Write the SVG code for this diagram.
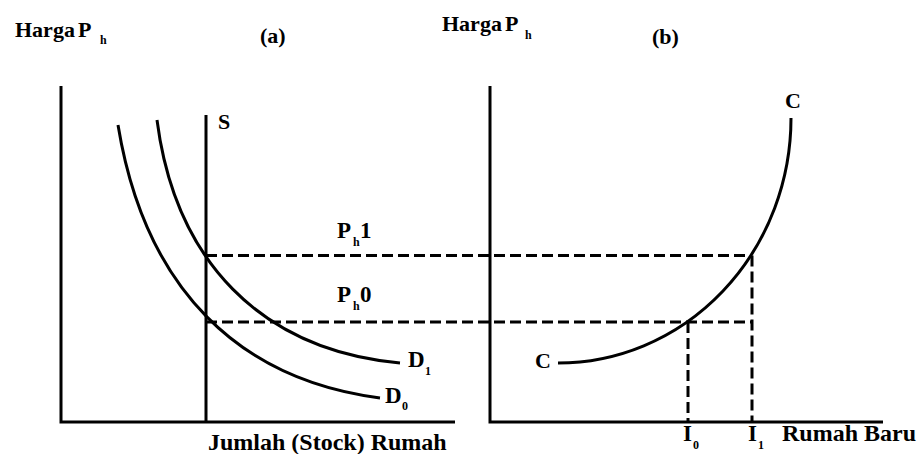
<svg xmlns="http://www.w3.org/2000/svg" width="920" height="454" viewBox="0 0 920 454">
<style>
text{font-family:"Liberation Serif","Times New Roman",serif;font-weight:bold;fill:#000;font-size:23px}
.hd{font-size:22px}
.ax-lbl{font-size:24px}
.sub{font-size:12px}
.ax{stroke:#000;stroke-width:3;fill:none}
.cv{stroke:#000;stroke-width:3;fill:none}
.ds{stroke:#000;stroke-width:3;fill:none;stroke-dasharray:11 5}
</style>
<rect width="920" height="454" fill="#fff"/>
<g id="panel-a">
<path class="ax" d="M61,86 V422 H455"/>
<text class="hd" x="15" y="37">Harga<tspan x="78" y="37">P</tspan><tspan class="sub" x="100" y="44">h</tspan></text>
<text class="hd" x="260" y="43">(a)</text>
<text class="ax-lbl" x="208" y="450">Jumlah (Stock) Rumah</text>
</g>
<g id="supply-S">
<path class="ax" d="M206,115 V422"/>
<text class="hd" x="218" y="129">S</text>
</g>
<g id="demand-D0">
<path class="cv" d="M118,125 C145,290 240,380 380,398"/>
<text x="385" y="403">D<tspan class="sub" x="402" y="410">0</tspan></text>
</g>
<g id="demand-D1">
<path class="cv" d="M157,120 C175,260 260,350 400,363"/>
<text x="408" y="367">D<tspan class="sub" x="425" y="375">1</tspan></text>
</g>
<g id="panel-b">
<path class="ax" d="M490,86 V422 H883"/>
<text class="hd" x="442" y="31">Harga<tspan x="505" y="31">P</tspan><tspan class="sub" x="525" y="39">h</tspan></text>
<text class="hd" x="652" y="44">(b)</text>
<text class="ax-lbl" x="782" y="441">Rumah Baru</text>
</g>
<g id="curve-C">
<path class="cv" d="M558,363 A233,245 0 0 0 791,118"/>
<text class="hd" x="785" y="108">C</text>
<text class="hd" x="535" y="368">C</text>
</g>
<g id="connectors">
<path class="ds" d="M206,255.5 H752"/>
<path class="ds" d="M206,322 H752"/>
<path class="ds" d="M688,322 V422"/>
<path class="ds" d="M752,255.5 V422"/>
</g>
<g id="labels">
<text x="337" y="238">P<tspan class="sub" x="353" y="246">h</tspan><tspan x="360" y="238">1</tspan></text>
<text x="337" y="302">P<tspan class="sub" x="353" y="310">h</tspan><tspan x="360" y="302">0</tspan></text>
<text x="683" y="441">I<tspan class="sub" x="693" y="449">0</tspan></text>
<text x="748" y="441">I<tspan class="sub" x="758" y="449">1</tspan></text>
</g>
</svg>
